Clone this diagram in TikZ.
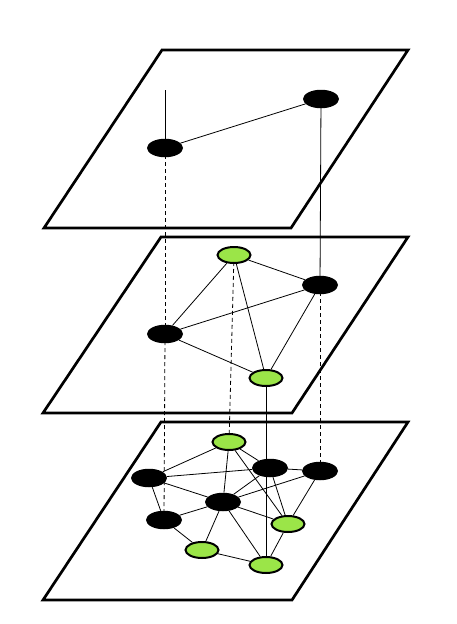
\documentclass[tikz,border=0pt]{standalone}
\usetikzlibrary{shapes.geometric}
\definecolor{lgreen}{RGB}{155,229,72}
\pgfdeclarelayer{planes}
\pgfdeclarelayer{edges}
\pgfsetlayers{planes,edges,main}
\begin{document}
\begin{tikzpicture}[x=1pt,y=-1pt,
  plane/.style={draw, line width=2.7pt, fill=white, line join=miter},
  bnode/.style={ellipse, fill=black, minimum width=36pt, minimum height=18.5pt, inner sep=0pt},
  gnode/.style={ellipse, draw=black, line width=2pt, fill=lgreen, minimum width=33pt, minimum height=16pt, inner sep=0pt},
  edge/.style={line width=0.8pt},
  link/.style={line width=0.8pt, dash pattern=on 4pt off 3pt}]
\useasboundingbox (0,0) rectangle (456,624);
% planes
\begin{pgfonlayer}{planes}
\draw[plane] (162,50) -- (408,50) -- (291,228) -- (44,228) -- cycle;
\draw[plane] (161,237) -- (408,237) -- (292,413) -- (43,413) -- cycle;
\draw[plane] (161,422) -- (408,422) -- (292,600) -- (43,600) -- cycle;
\end{pgfonlayer}
% nodes: top layer
\node[bnode] (tA) at (165,148) {};
\node[bnode] (tB) at (321,99) {};
\coordinate (stub) at (165,90);
% middle layer
\node[gnode] (mG1) at (234,255) {};
\node[bnode] (mM1) at (320,285) {};
\node[bnode] (mM2) at (165,334) {};
\node[gnode] (mG2) at (266,378) {};
% bottom layer
\node[gnode] (g3) at (229,442) {};
\node[bnode] (b1) at (149,478) {};
\node[bnode] (b2) at (270,468) {};
\node[bnode] (b3) at (320,471) {};
\node[bnode] (b4) at (223,502) {};
\node[bnode] (b5) at (164,520) {};
\node[gnode] (g4) at (288,524) {};
\node[gnode] (g5) at (202,550) {};
\node[gnode] (g6) at (266,565) {};
\begin{pgfonlayer}{edges}
% inter-layer links
\draw[edge] (stub) -- (tA.center);
\draw[link] (tA.center) -- (mM2.center);
\draw[edge] (tB.center) -- (mM1.center);
\draw[link] (mM2.center) -- (b5.center);
\draw[link] (mG1.center) -- (g3.center);
\draw[edge] (mG2.center) -- (g6.center);
\draw[link] (mM1.center) -- (b3.center);
% top edges
\draw[edge] (tA) -- (tB);
% middle edges
\draw[edge] (mG1) -- (mM1);
\draw[edge] (mG1) -- (mM2);
\draw[edge] (mG1) -- (mG2);
\draw[edge] (mM2) -- (mM1);
\draw[edge] (mM2) -- (mG2);
\draw[edge] (mM1) -- (mG2);
% bottom edges
\draw[edge] (g3) -- (b1);
\draw[edge] (g3) -- (b4);
\draw[edge] (g3) -- (b2);
\draw[edge] (g3) -- (g4);
\draw[edge] (b1) -- (b2);
\draw[edge] (b1) -- (b4);
\draw[edge] (b1) -- (b5);
\draw[edge] (b2) -- (b3);
\draw[edge] (b2) -- (b4);
\draw[edge] (b2) -- (g4);
\draw[edge] (b3) -- (b4);
\draw[edge] (b3) -- (g4);
\draw[edge] (b4) -- (b5);
\draw[edge] (b4) -- (g5);
\draw[edge] (b4) -- (g4);
\draw[edge] (b4) -- (g6);
\draw[edge] (b5) -- (g5);
\draw[edge] (g5) -- (g6);
\draw[edge] (g4) -- (g6);
\end{pgfonlayer}
\end{tikzpicture}
\end{document}
